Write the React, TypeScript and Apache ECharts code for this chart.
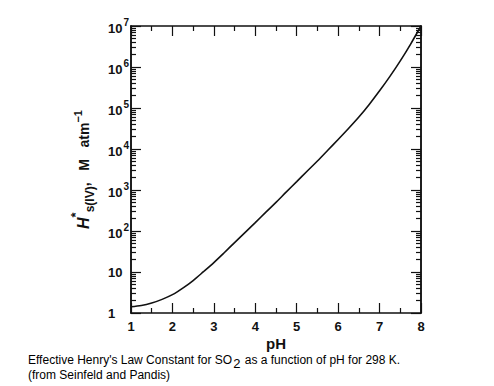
import React, { useEffect, useRef } from "react";
import * as echarts from "echarts";

const pH = [1, 1.25, 1.5, 1.75, 2, 2.25, 2.5, 2.75, 3, 3.25, 3.5, 3.75, 4, 4.25, 4.5, 4.75, 5, 5.25, 5.5, 5.75, 6, 6.25, 6.5, 6.75, 7, 7.25, 7.5, 7.75, 8];
const Hstar = [1.42, 1.52, 1.75, 2.15, 2.8, 4.05, 6.2, 10.2, 17, 29.5, 52, 91, 160, 285, 500, 900, 1600, 2870, 5100, 9300, 17000, 31500, 60000, 122000, 262000, 590000, 1410000, 3630000, 10000000];
const xTicks = [1, 2, 3, 4, 5, 6, 7, 8];
const yMin = 1;
const yMax = 10000000;

const minorLog: number[] = [];
for (let d = 1; d < yMax; d *= 10) {
  for (let k = 2; k <= 9; k++) minorLog.push(d * k);
}
const majorLog: number[] = [];
for (let d = 1; d <= yMax; d *= 10) majorLog.push(d);

const FONT = "Liberation Sans, Arial, Helvetica, sans-serif";
const INK = "#111";

export default function App() {
  const ref = useRef<HTMLDivElement>(null);
  useEffect(() => {
    if (!ref.current) return;
    const chart = echarts.init(ref.current, undefined, { renderer: "svg" });
    const yLabel = (v: number) => {
      const e = Math.round(Math.log10(v));
      if (e === 0) return "{b|1}";
      if (e === 1) return "{b|10}";
      return "{b|10}{s|" + e + "}";
    };
    const hiddenLog = (position: "left" | "right", customValues: number[], length: number) => ({
      type: "log" as const,
      logBase: 10,
      min: yMin,
      max: yMax,
      position,
      axisLine: { show: true, lineStyle: { color: INK, width: 1.5 } },
      axisTick: { show: true, inside: true, length, customValues, lineStyle: { color: INK, width: 1.2 } },
      axisLabel: { show: false },
      splitLine: { show: false },
    });
    chart.setOption({
      animation: false,
      backgroundColor: "#fff",
      grid: { left: 131, right: 73, top: 26, bottom: 73, containLabel: false },
      xAxis: [
        {
          type: "value",
          min: 1,
          max: 8,
          interval: 1,
          position: "bottom",
          name: "pH",
          nameLocation: "middle",
          nameGap: 23,
          nameMoveOverlap: false,
          nameTextStyle: { fontFamily: FONT, fontSize: 15, color: INK, fontWeight: "bold" },
          axisLine: { show: true, lineStyle: { color: INK, width: 1.5 } },
          axisTick: { show: true, inside: true, length: 10, customValues: xTicks, lineStyle: { color: INK, width: 1.2 } },
          minorTick: { show: true, splitNumber: 2, length: 5, lineStyle: { color: INK, width: 1.2 } },
          axisLabel: { show: true, margin: 7, fontFamily: FONT, fontSize: 13, color: INK, fontWeight: "bold" },
          splitLine: { show: false },
        },
        {
          type: "value",
          min: 1,
          max: 8,
          interval: 1,
          position: "top",
          axisLine: { show: true, lineStyle: { color: INK, width: 1.5 } },
          axisTick: { show: true, inside: true, length: 10, lineStyle: { color: INK, width: 1.2 } },
          minorTick: { show: true, splitNumber: 2, length: 5, lineStyle: { color: INK, width: 1.2 } },
          axisLabel: { show: false },
          splitLine: { show: false },
        },
      ],
      yAxis: [
        {
          type: "log",
          logBase: 10,
          min: yMin,
          max: yMax,
          position: "left",
          name: "{h|H}{st|*}{sub|s(IV)}{n|,   M   atm}{sup|−1}",
          nameLocation: "middle",
          nameRotate: 90,
          nameGap: 40,
          nameMoveOverlap: false,
          nameTextStyle: {
            color: INK,
            fontFamily: FONT,
            rich: {
              h: { fontSize: 16, fontStyle: "italic", fontWeight: "bold", color: INK, fontFamily: FONT, verticalAlign: "bottom" },
              st: { fontSize: 13, fontWeight: "bold", color: INK, fontFamily: FONT, verticalAlign: "bottom", padding: [0, 0, 9, 0] },
              sub: { fontSize: 12, fontWeight: "bold", color: INK, fontFamily: FONT, verticalAlign: "bottom", padding: [0, 0, -5, 0] },
              n: { fontSize: 14, fontWeight: "bold", color: INK, fontFamily: FONT, verticalAlign: "bottom" },
              sup: { fontSize: 11, fontWeight: "bold", color: INK, fontFamily: FONT, verticalAlign: "bottom", padding: [0, 0, 8, 0] },
            },
          },
          axisLine: { show: true, lineStyle: { color: INK, width: 1.5 } },
          axisTick: { show: true, inside: true, length: 10, customValues: majorLog, lineStyle: { color: INK, width: 1.2 } },
          axisLabel: {
            show: true,
            margin: 23,
            align: "left",
            formatter: yLabel,
            rich: {
              b: { fontSize: 13, fontWeight: "bold", color: INK, fontFamily: FONT, verticalAlign: "bottom" },
              s: { fontSize: 10, fontWeight: "bold", color: INK, fontFamily: FONT, verticalAlign: "bottom", padding: [0, 0, 7, 1] },
            },
          },
          splitLine: { show: false },
        },
        hiddenLog("right", majorLog, 10),
        hiddenLog("left", minorLog, 5),
        hiddenLog("right", minorLog, 5),
      ],
      series: [
        {
          type: "line",
          xAxisIndex: 0,
          yAxisIndex: 0,
          data: pH.map((x, i) => [x, Hstar[i]]),
          smooth: 0.3,
          showSymbol: false,
          symbol: "none",
          lineStyle: { color: INK, width: 1.6 },
          clip: true,
        },
      ],
      graphic: [
        {
          type: "text",
          left: 28,
          top: 354,
          style: {
            text: "{a|Effective Henry's Law Constant for SO}{sub|2}{a| as a function of pH for 298 K.}\n{a|(from Seinfeld and Pandis)}",
            rich: {
              a: { fontSize: 12, fontFamily: FONT, fill: "#000", lineHeight: 15, verticalAlign: "bottom" },
              sub: { fontSize: 13, fontFamily: FONT, fill: "#000", lineHeight: 15, verticalAlign: "bottom", padding: [0, 1, -4, 1] },
            },
          },
        },
      ],
    });
    return () => chart.dispose();
  }, []);
  return (
    <div
      ref={ref}
      style={{ position: "fixed", left: 0, top: 0, width: 494, height: 386, background: "#fff" }}
    />
  );
}
